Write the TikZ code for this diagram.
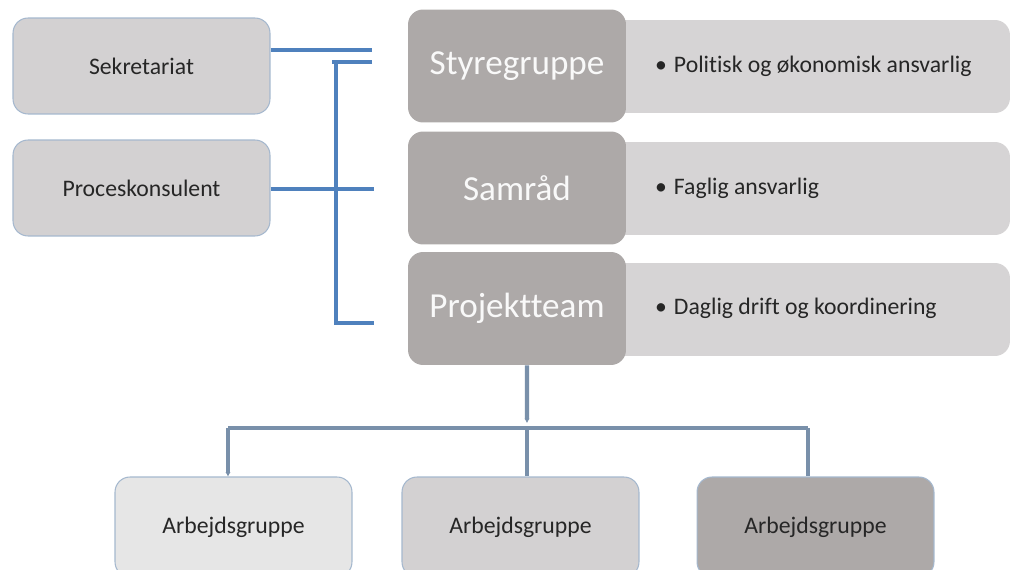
\documentclass[tikz,border=0pt]{standalone}
\usepackage{fontspec}
\setmainfont{Carlito}[Ligatures=NoCommon]
\usepackage{xcolor}
\usepackage{tikz}
\usetikzlibrary{shapes,positioning,arrows.meta}

\definecolor{linjeblaa}{HTML}{4F81BD}
\definecolor{linjegraa}{HTML}{7990AA}
\definecolor{kant}{HTML}{A5B8CE}
\definecolor{moerk}{HTML}{ADA9A8}
\definecolor{mellem}{HTML}{D3D1D2}
\definecolor{lys}{HTML}{E6E6E6}
\definecolor{panelgraa}{HTML}{D6D4D5}

\begin{document}
\begin{tikzpicture}[x=0.02cm,y=-0.02cm,
    sideboks/.style={rectangle,rounded corners=0.3cm,draw=kant,line width=0.6pt,fill=mellem,
        minimum width=5.14cm,minimum height=1.92cm,text=black!85,font=\fontsize{13.5}{16}\selectfont},
    bundboks/.style={sideboks,minimum width=4.74cm,minimum height=2cm},
    hovedboks/.style={rectangle,rounded corners=0.3cm,fill=moerk,text=white!95!gray,
        minimum width=4.36cm,minimum height=2.26cm,font=\fontsize{20}{24}\selectfont},
    panelboks/.style={rectangle,rounded corners=0.3cm,fill=panelgraa,
        minimum width=8.2cm,minimum height=1.86cm},
    punkt/.style={text=black!85,font=\fontsize{13.5}{16}\selectfont},
    blaa/.style={draw=linjeblaa,line width=2pt},
    graa/.style={draw=linjegraa,line width=2.3pt}]
                \useasboundingbox (0,0) rectangle (1012,570);

                \node[sideboks] (sek) at (141.5,66) {Sekretariat};
                \node[sideboks] (proc) at (141.5,188) {Proceskonsulent};

                \node[panelboks] (p1) at (805,66.5) {};
                \node[panelboks] (p2) at (805,188.5) {};
                \node[panelboks] (p3) at (805,309.5) {};

                \node[hovedboks] (styre) at (517,66) {Styregruppe};
                \node[hovedboks] (samr) at (517,188) {Samråd};
                \node[hovedboks] (proj) at (517,308.5) {Projektteam};

                \node[punkt,right=0.45cm of styre] (t1) {•\hspace{0.3em}Polit\kern0pt isk og økonomisk ansvarlig};
                \node[punkt,right=0.45cm of samr] (t2) {•\hspace{0.3em}Faglig ansvarlig};
                \node[punkt,right=0.45cm of proj] (t3) {•\hspace{0.3em}Daglig drift og koordinering};

                \node[bundboks,fill=lys] (a1) at (233.5,527) {Arbejdsgruppe};
                \node[bundboks] (a2) at (520.5,527) {Arbejdsgruppe};
                \node[bundboks,fill=moerk] (a3) at (815.5,527) {Arbejdsgruppe};

                \coordinate (s1) at (372,50);
                \coordinate (s2) at (372,62);
                \coordinate (knude) at (336,62);
                \coordinate (s3) at (374,323);
                \coordinate (s4) at (374,189);
                \draw[blaa] (sek.east |- s1) -- (s1);
                \draw[blaa] (s2) -- ++(-40,0);
                \draw[blaa] (knude) -- (knude |- s3) -- (s3);
                \draw[blaa] (proc.east |- s4) -- (s4);

                \coordinate (gren) at (527,428);
                \coordinate (g1) at (228,428);
                \coordinate (g3) at (808,428);
                \draw[graa,-{Latex[length=2.5pt,width=3pt]}] ([xshift=0.2cm]proj.south) -- ([yshift=0.1cm]gren);
                \draw[graa] (g1) -- (g3);
                \draw[graa,-{Latex[length=2.5pt,width=3pt]}] (g1) -- (g1 |- a1.north);
                \draw[graa] (gren) -- (gren |- a2.north);
                \draw[graa] (g3) -- (g3 |- a3.north);
\end{tikzpicture}
\end{document}
